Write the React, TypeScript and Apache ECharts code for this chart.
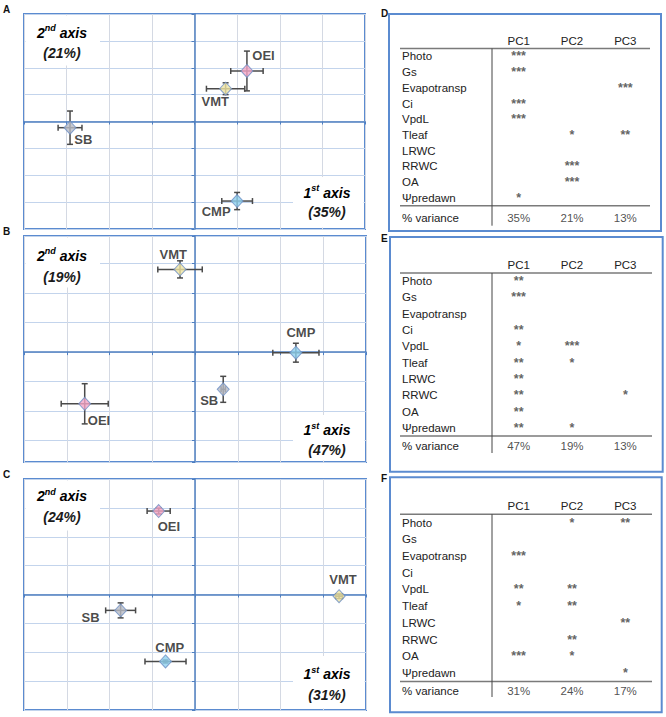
import React, { useEffect, useRef } from 'react';
import * as echarts from 'echarts';

// ---------- data ----------
const genotypes = ['OEI', 'VMT', 'SB', 'CMP'];
const genoColors = ['#f4a5c6', '#eee3a3', '#b8bcc5', '#8fd1ef'];

// Panel A – scores on 1st / 2nd axis and their standard errors
const pc1A = [1.23, 0.73, -2.92, 1.0];
const pc2A = [1.88, 1.22, -0.23, -2.96];
const se1A = [0.38, 0.45, 0.28, 0.36];
const se2A = [0.74, 0.22, 0.62, 0.32];
// Panel B
const pc1B = [-2.58, -0.35, 0.66, 2.36];
const pc2B = [-1.75, 2.8, -1.26, -0.02];
const se1B = [0.55, 0.52, 0.05, 0.54];
const se2B = [0.68, 0.29, 0.44, 0.32];
// Panel C
const pc1C = [-0.85, 3.37, -1.74, -0.69];
const pc2C = [2.89, -0.06, -0.55, -2.32];
const se1C = [0.27, 0.08, 0.35, 0.48];
const se2C = [0.1, 0.08, 0.26, 0.05];

// Tables D, E, F
const traits = ['Photo', 'Gs', 'Evapotransp', 'Ci', 'VpdL', 'Tleaf', 'LRWC', 'RRWC', 'OA', 'Ψpredawn'];
const pcNames = ['PC1', 'PC2', 'PC3'];
const sigD = [
  ['***', '', ''],
  ['***', '', ''],
  ['', '', '***'],
  ['***', '', ''],
  ['***', '', ''],
  ['', '*', '**'],
  ['', '', ''],
  ['', '***', ''],
  ['', '***', ''],
  ['*', '', ''],
];
const sigE = [
  ['**', '', ''],
  ['***', '', ''],
  ['', '', ''],
  ['**', '', ''],
  ['*', '***', ''],
  ['**', '*', ''],
  ['**', '', ''],
  ['**', '', '*'],
  ['**', '', ''],
  ['**', '*', ''],
];
const sigF = [
  ['', '*', '**'],
  ['', '', ''],
  ['***', '', ''],
  ['', '', ''],
  ['**', '**', ''],
  ['*', '**', ''],
  ['', '', '**'],
  ['', '**', ''],
  ['***', '*', ''],
  ['', '', '*'],
];
const varianceD = [35, 21, 13];
const varianceE = [47, 19, 13];
const varianceF = [31, 24, 17];

// ---------- layout ----------
const FONT = '"Liberation Sans", Arial, sans-serif';
const BLUE = '#5b8bd0';
const STAR_COLOR = '#3a3a3a';

const scatterPanels = [
  {
    letter: 'A', left: 24, top: 14, width: 341, height: 215, yMin: -4, yMax: 4,
    x: pc1A, y: pc2A, ex: se1A, ey: se2A, variance: varianceD,
    labelOffsets: [[16.6, -15], [-10.3, 13], [13.3, 12.3], [-21, 10.7]],
    tl: [18.7, 39.3], br: [-36.3, -17.3], brBox: 52,
  },
  {
    letter: 'B', left: 24, top: 236, width: 342, height: 226, yMin: -3.72, yMax: 3.93,
    x: pc1B, y: pc2B, ex: se1B, ey: se2B, variance: varianceE,
    labelOffsets: [[14.3, 17], [-6.7, -15.3], [-14, 11.4], [5, -20]],
    tl: [19.7, 41], br: [-32, -12], brBox: 47,
  },
  {
    letter: 'C', left: 24, top: 479, width: 342, height: 231, yMin: -4, yMax: 4,
    x: pc1C, y: pc2C, ex: se1C, ey: se2C, variance: varianceF,
    labelOffsets: [[10.3, 15.3], [4, -16.7], [-30, 7.3], [4.3, -14.4]],
    tl: [17, 37.7], br: [-36, -15], brBox: 54,
  },
];

const tables = [
  { letter: 'D', box: [389, 14, 272, 217], rowsTop: 48.5, rowH: 15.73, varH: 24, ruleRight: 650, vEnd: 225.7, sig: sigD, variance: varianceD, lx: 381, ly: 8 },
  { letter: 'E', box: [390, 237, 272.7, 234.7], rowsTop: 273, rowH: 16.3, varH: 19, ruleRight: 652, vEnd: 453, sig: sigE, variance: varianceE, lx: 381, ly: 233 },
  { letter: 'F', box: [390, 477.3, 271.7, 235], rowsTop: 514.2, rowH: 16.73, varH: 18.6, ruleRight: 652, vEnd: 697, sig: sigF, variance: varianceF, lx: 381, ly: 473 },
];
const TABLE_LEFT = 492;
const TABLE_WIDTH = 160;
const RULE_LEFT = 400;

function axisNameText(num: string, sup: string, pct: number, cx: number, cy1: number, cy2: number) {
  const base = { fontSize: 14, fontWeight: 'bold', fontStyle: 'italic', fontFamily: FONT, color: '#1a1a1a', lineHeight: 18 };
  return [
    {
      type: 'text', x: cx, y: cy1, z: 20,
      style: {
        text: `{a|${num}}{s|${sup}}{a| axis}`,
        align: 'center', verticalAlign: 'middle',
        rich: { a: base, s: { ...base, fontSize: 9, lineHeight: 18, verticalAlign: 'top' } },
      },
    },
    {
      type: 'text', x: cx, y: cy2, z: 20,
      style: { text: `(${pct}%)`, align: 'center', verticalAlign: 'middle', fontSize: 14, fontWeight: 'bold', fontStyle: 'italic', fontFamily: FONT, fill: '#1a1a1a' },
    },
  ];
}

function buildOption() {
  const grid: any[] = [];
  const xAxis: any[] = [];
  const yAxis: any[] = [];
  const series: any[] = [];
  const graphic: any[] = [];

  scatterPanels.forEach((p, i) => {
    grid.push({ left: p.left, top: p.top, width: p.width, height: p.height, show: true, borderColor: BLUE, borderWidth: 2, backgroundColor: '#fff' });
    const axisLine = { onZero: true, lineStyle: { color: '#4f7fc0', width: 1.5 } };
    xAxis.push({
      gridIndex: i, type: 'value', min: -4, max: 4, interval: 1,
      axisLabel: { show: false }, axisLine, axisTick: { show: true, length: 3, lineStyle: { color: '#4f7fc0' } },
      splitLine: { lineStyle: { color: '#d4d9e3', width: 1 } },
    });
    yAxis.push({
      gridIndex: i, type: 'value', min: p.yMin, max: p.yMax, splitNumber: 8,
      axisLabel: { show: false }, axisLine, axisTick: { show: true, length: 3, lineStyle: { color: '#4f7fc0' } },
      splitLine: { lineStyle: { color: '#c3d4ec', width: 1 } },
    });
    series.push({
      type: 'custom', xAxisIndex: i, yAxisIndex: i, coordinateSystem: 'cartesian2d', z: 3, clip: false,
      encode: { x: 0, y: 1 },
      data: genotypes.map((_, k) => [p.x[k], p.y[k], p.ex[k], p.ey[k]]),
      renderItem: (params: any, api: any) => {
        const x = api.value(0), y = api.value(1), ex = api.value(2), ey = api.value(3);
        const l = api.coord([x - ex, y]);
        const r = api.coord([x + ex, y]);
        const t = api.coord([x, y + ey]);
        const b = api.coord([x, y - ey]);
        const cap = 3;
        const style = { stroke: '#4a4a4a', lineWidth: 1.5 };
        return {
          type: 'group',
          children: [
            { type: 'line', shape: { x1: l[0], y1: l[1], x2: r[0], y2: r[1] }, style },
            { type: 'line', shape: { x1: l[0], y1: l[1] - cap, x2: l[0], y2: l[1] + cap }, style },
            { type: 'line', shape: { x1: r[0], y1: r[1] - cap, x2: r[0], y2: r[1] + cap }, style },
            { type: 'line', shape: { x1: t[0], y1: t[1], x2: b[0], y2: b[1] }, style },
            { type: 'line', shape: { x1: t[0] - cap, y1: t[1], x2: t[0] + cap, y2: t[1] }, style },
            { type: 'line', shape: { x1: b[0] - cap, y1: b[1], x2: b[0] + cap, y2: b[1] }, style },
          ],
        };
      },
    });
    series.push({
      type: 'scatter', xAxisIndex: i, yAxisIndex: i, z: 5, symbol: 'diamond', symbolSize: [12, 13],
      data: genotypes.map((g, k) => ({
        name: g,
        value: [p.x[k], p.y[k]],
        itemStyle: { color: genoColors[k], borderColor: '#6d8fc4', borderWidth: 1 },
        label: { offset: p.labelOffsets[k] },
      })),
      label: {
        show: true, position: 'inside', formatter: '{b}', fontSize: 13, fontWeight: 'bold',
        fontFamily: FONT, color: '#1a1a1a', textBorderWidth: 0,
      },
    });
    const bottom = p.top + p.height;
    const right = p.left + p.width;
    graphic.push({ type: 'rect', z: 10, shape: { x: p.left + 1.5, y: p.top + 1.5, width: 100 - p.left - 1.5, height: 50 }, style: { fill: '#fff' } });
    graphic.push({ type: 'rect', z: 10, shape: { x: 293, y: bottom - p.brBox, width: right - 1.5 - 293, height: p.brBox - 1.5 }, style: { fill: '#fff' } });
    graphic.push(...axisNameText('2', 'nd', p.variance[1], 62, p.top + p.tl[0], p.top + p.tl[1]));
    graphic.push(...axisNameText('1', 'st', p.variance[0], 327, bottom + p.br[0], bottom + p.br[1]));
    graphic.push({ type: 'text', x: 3, y: p.top - 10, style: { text: p.letter, fontSize: 10, fontWeight: 'bold', fontFamily: FONT, fill: '#111' } });
  });

  tables.forEach((t) => {
    const gMain = grid.length;
    const mainH = t.rowH * traits.length;
    grid.push({ left: TABLE_LEFT, top: t.rowsTop, width: TABLE_WIDTH, height: mainH, show: false });
    xAxis.push({
      gridIndex: gMain, type: 'category', data: pcNames, position: 'top',
      axisLine: { show: false }, axisTick: { show: false }, splitLine: { show: false },
      axisLabel: { margin: 2, fontSize: 11.5, color: '#222', fontFamily: FONT, interval: 0 },
    });
    yAxis.push({
      gridIndex: gMain, type: 'category', data: traits, inverse: true,
      axisLine: { show: false }, axisTick: { show: false }, splitLine: { show: false },
      axisLabel: { margin: 90, align: 'left', fontSize: 11.5, color: '#222', fontFamily: FONT, interval: 0 },
    });
    const starLabel = { show: true, position: 'inside', fontSize: 12.5, fontWeight: 'bold', color: STAR_COLOR, fontFamily: FONT, textBorderWidth: 0 };
    const cells: any[] = [];
    t.sig.forEach((row, r) => row.forEach((s, c) => {
      if (s) cells.push({ value: [c, r], label: { ...starLabel, formatter: s } });
    }));
    series.push({
      type: 'scatter', xAxisIndex: gMain, yAxisIndex: gMain, symbolSize: 1, itemStyle: { color: 'rgba(0,0,0,0)' },
      data: cells,
      label: starLabel,
    });

    const gVar = grid.length;
    const varTop = t.rowsTop + mainH;
    grid.push({ left: TABLE_LEFT, top: varTop, width: TABLE_WIDTH, height: t.varH, show: false });
    xAxis.push({
      gridIndex: gVar, type: 'category', data: pcNames,
      axisLine: { show: false }, axisTick: { show: false }, splitLine: { show: false }, axisLabel: { show: false },
    });
    yAxis.push({
      gridIndex: gVar, type: 'category', data: ['% variance'],
      axisLine: { show: false }, axisTick: { show: false }, splitLine: { show: false },
      axisLabel: { margin: 90, align: 'left', fontSize: 11.5, color: '#222', fontFamily: FONT },
    });
    const varLabel = { show: true, position: 'inside', fontSize: 11.5, color: '#222', fontFamily: FONT, textBorderWidth: 0 };
    series.push({
      type: 'scatter', xAxisIndex: gVar, yAxisIndex: gVar, symbolSize: 1, itemStyle: { color: 'rgba(0,0,0,0)' },
      data: t.variance.map((v, c) => ({ value: [c, 0], label: { ...varLabel, formatter: `${v}%` } })),
      label: varLabel,
    });

    const [bx, by, bw, bh] = t.box;
    graphic.push({ type: 'rect', z: 10, shape: { x: bx, y: by, width: bw, height: bh }, style: { fill: 'none', stroke: BLUE, lineWidth: 2 } });
    graphic.push({ type: 'line', z: 10, shape: { x1: RULE_LEFT, y1: t.rowsTop, x2: t.ruleRight, y2: t.rowsTop }, style: { stroke: '#7a7a7a', lineWidth: 1.5 } });
    graphic.push({ type: 'line', z: 10, shape: { x1: RULE_LEFT, y1: varTop, x2: t.ruleRight, y2: varTop }, style: { stroke: '#7a7a7a', lineWidth: 1.5 } });
    graphic.push({ type: 'line', z: 10, shape: { x1: TABLE_LEFT, y1: t.rowsTop, x2: TABLE_LEFT, y2: t.vEnd }, style: { stroke: '#444', lineWidth: 1 } });
    graphic.push({ type: 'text', x: t.lx, y: t.ly, style: { text: t.letter, fontSize: 10, fontWeight: 'bold', fontFamily: FONT, fill: '#111' } });
  });

  return {
    animation: false,
    backgroundColor: '#fff',
    grid, xAxis, yAxis, series, graphic,
  };
}

export default function App() {
  const ref = useRef<HTMLDivElement>(null);
  useEffect(() => {
    if (!ref.current) return;
    const chart = echarts.init(ref.current, undefined, { renderer: 'svg' });
    chart.setOption(buildOption() as any);
    return () => chart.dispose();
  }, []);
  return <div ref={ref} style={{ position: 'absolute', left: 0, top: 0, width: 666, height: 717 }} />;
}
